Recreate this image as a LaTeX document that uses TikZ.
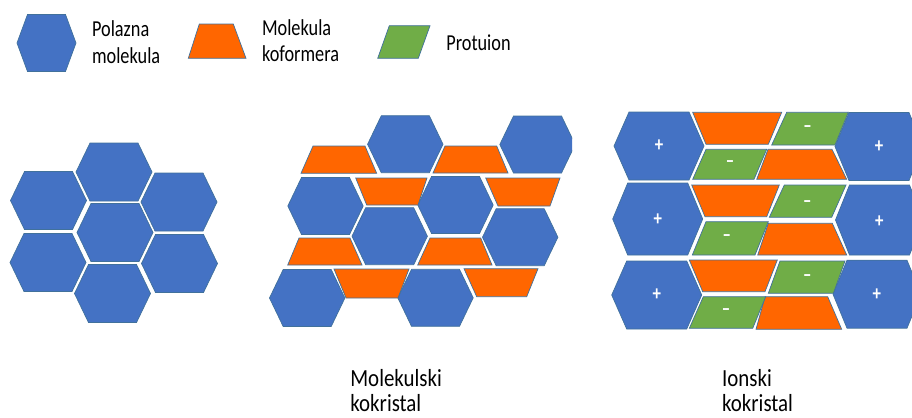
\documentclass[tikz,border=0pt]{standalone}
\usepackage{fontspec}
\usepackage{tikz}
\newfontfamily\legendfont[FakeStretch=0.8]{Carlito}
\newfontfamily\labelfont[FakeStretch=0.85]{Carlito}
\definecolor{molblue}{HTML}{4472C4}
\definecolor{koforange}{HTML}{FF6600}
\definecolor{iongreen}{HTML}{70AD47}
\definecolor{edgeblue}{HTML}{41719C}

% hexagon: centre x, centre y, half width, half height, half top edge
\newcommand{\hexcell}[5]{\filldraw[hexa] (#1-#3,#2) -- (#1-#5,#2-#4) -- (#1+#5,#2-#4)
    -- (#1+#3,#2) -- (#1+#5,#2+#4) -- (#1-#5,#2+#4) -- cycle;}
% four corners: style, top left x, top right x, top y, bottom left x, bottom right x, bottom y
\newcommand{\quadcell}[7]{\filldraw[#1] (#2,#4) -- (#3,#4) -- (#6,#7) -- (#5,#7) -- cycle;}

\begin{document}
\begin{tikzpicture}[x=0.02cm, y=-0.02cm,
        hexa/.style={fill=molblue, draw=edgeblue, line width=0.4pt},
        trap/.style={fill=koforange, draw=edgeblue, line width=0.4pt},
        para/.style={fill=iongreen, draw=edgeblue, line width=0.4pt},
        legend/.style={font=\legendfont\fontsize{13}{15}\selectfont, align=left, inner sep=0pt},
        caption/.style={font=\labelfont\fontsize{14}{14}\selectfont, align=left, inner sep=0pt},
        sign/.style={text=white, font=\legendfont\bfseries\fontsize{12}{12}\selectfont, inner sep=0pt}]
    \useasboundingbox (0,0) rectangle (912,417);

    % legend
    \hexcell{46.5}{43}{29.5}{28.5}{19}
    \quadcell{trap}{199.3}{233.3}{24}{188.3}{246}{58.3}
    \quadcell{para}{389.3}{430}{25.7}{377.7}{418.3}{58.3}
    \node[legend, anchor=base west] (lhex) at (91.7,63.3) {Polazna\\molekula};
    \node[legend, anchor=base west] (ltrap) at (261.7,61.7) {Molekula\\koformera};
    \node[legend, anchor=base west] (lpara) at (446,50) {Protuion};

    % polazna molekula
    \hexcell{114}{172}{38}{29}{24}
    \hexcell{48.5}{200.5}{38}{29}{24}
    \hexcell{179}{202}{38}{29}{24}
    \hexcell{115}{232.5}{38}{29}{24}
    \hexcell{48}{262.5}{38}{29}{24}
    \hexcell{179.5}{263.5}{38}{29}{24}
    \hexcell{112.5}{293.5}{38}{29}{24}

    % molekulski kokristal
    \hexcell{405.3}{144.2}{37.7}{28.5}{24}
    \begin{scope}
        \clip (490,100) rectangle (572,180);
        \hexcell{537.5}{144.5}{37.7}{28.5}{24}
    \end{scope}
    \hexcell{325.5}{206}{37.7}{28.5}{24}
    \hexcell{455.5}{205}{37.7}{28.5}{24}
    \hexcell{389.7}{236.2}{37.7}{28.5}{24}
    \hexcell{520.2}{237.2}{37.7}{28.5}{24}
    \hexcell{307.2}{298}{37.7}{28.5}{24}
    \hexcell{435.5}{297.8}{37.7}{28.5}{24}
    \quadcell{trap}{313}{365}{146}{301}{376.7}{173.3}
    \quadcell{trap}{445}{496.7}{146}{433}{508}{173}
    \quadcell{trap}{355.7}{427}{178}{366.7}{418}{205}
    \quadcell{trap}{485.7}{560}{178}{498}{550}{206}
    \quadcell{trap}{299}{350}{238}{287.7}{362}{265}
    \quadcell{trap}{430}{480.7}{238}{417.7}{492}{265}
    \quadcell{trap}{334}{409}{269}{346}{398}{298}
    \quadcell{trap}{464}{538}{268.7}{476.7}{526.7}{296.7}

    % ionski kokristal
    \hexcell{659}{146}{45}{34}{30}
    \hexcell{657.7}{219}{45}{36}{30}
    \hexcell{656.7}{295}{45}{34}{30}
    \begin{scope}
        \clip (820,100) rectangle (912,340);
        \hexcell{879}{146.5}{44}{34}{30}
        \hexcell{879.5}{220}{44}{35}{30}
        \hexcell{877}{294.2}{44}{34}{30}
    \end{scope}
    \quadcell{trap}{692.7}{781.7}{112.3}{706}{768.3}{144.3}
    \quadcell{trap}{768}{832}{149.3}{756.7}{846.7}{179.3}
    \quadcell{trap}{691.7}{779.3}{185}{705}{766.7}{216.7}
    \quadcell{trap}{768.3}{832.3}{223.3}{757.7}{846.7}{255}
    \quadcell{trap}{689.3}{777.3}{260}{702.7}{765}{291.7}
    \quadcell{trap}{765}{827.7}{296.7}{756}{841.7}{329.3}
    \quadcell{para}{786.7}{848.3}{112.3}{771.7}{835}{145}
    \quadcell{para}{706}{766.7}{149.3}{692.7}{754}{179.3}
    \quadcell{para}{784.3}{846}{185}{769.3}{831.7}{217.3}
    \quadcell{para}{706}{768.3}{221.7}{692.3}{755}{255}
    \quadcell{para}{780}{845}{261}{768.3}{833.3}{293.3}
    \quadcell{para}{703.3}{765.7}{296.7}{689.3}{752.7}{328.3}

    \node[sign] (p1) at (659,146) {+};
    \node[sign] (p2) at (657.7,220) {+};
    \node[sign] (p3) at (656.7,295) {+};
    \node[sign] (p4) at (879,147) {+};
    \node[sign] (p5) at (879.3,221.5) {+};
    \node[sign] (p6) at (876.7,294.3) {+};
    \node[sign] (m1) at (807.5,129) {–};
    \node[sign] (m2) at (730,164.3) {–};
    \node[sign] (m3) at (807.3,204) {–};
    \node[sign] (m4) at (726.7,238.3) {–};
    \node[sign] (m5) at (807.3,278) {–};
    \node[sign] (m6) at (726,311.7) {–};

    % captions
    \node[caption, anchor=base west] (cmol) at (350,411.5) {Molekulski\\kokristal};
    \node[caption, anchor=base west] (cion) at (721.7,411.5) {Ionski\\kokristal};
\end{tikzpicture}
\end{document}
